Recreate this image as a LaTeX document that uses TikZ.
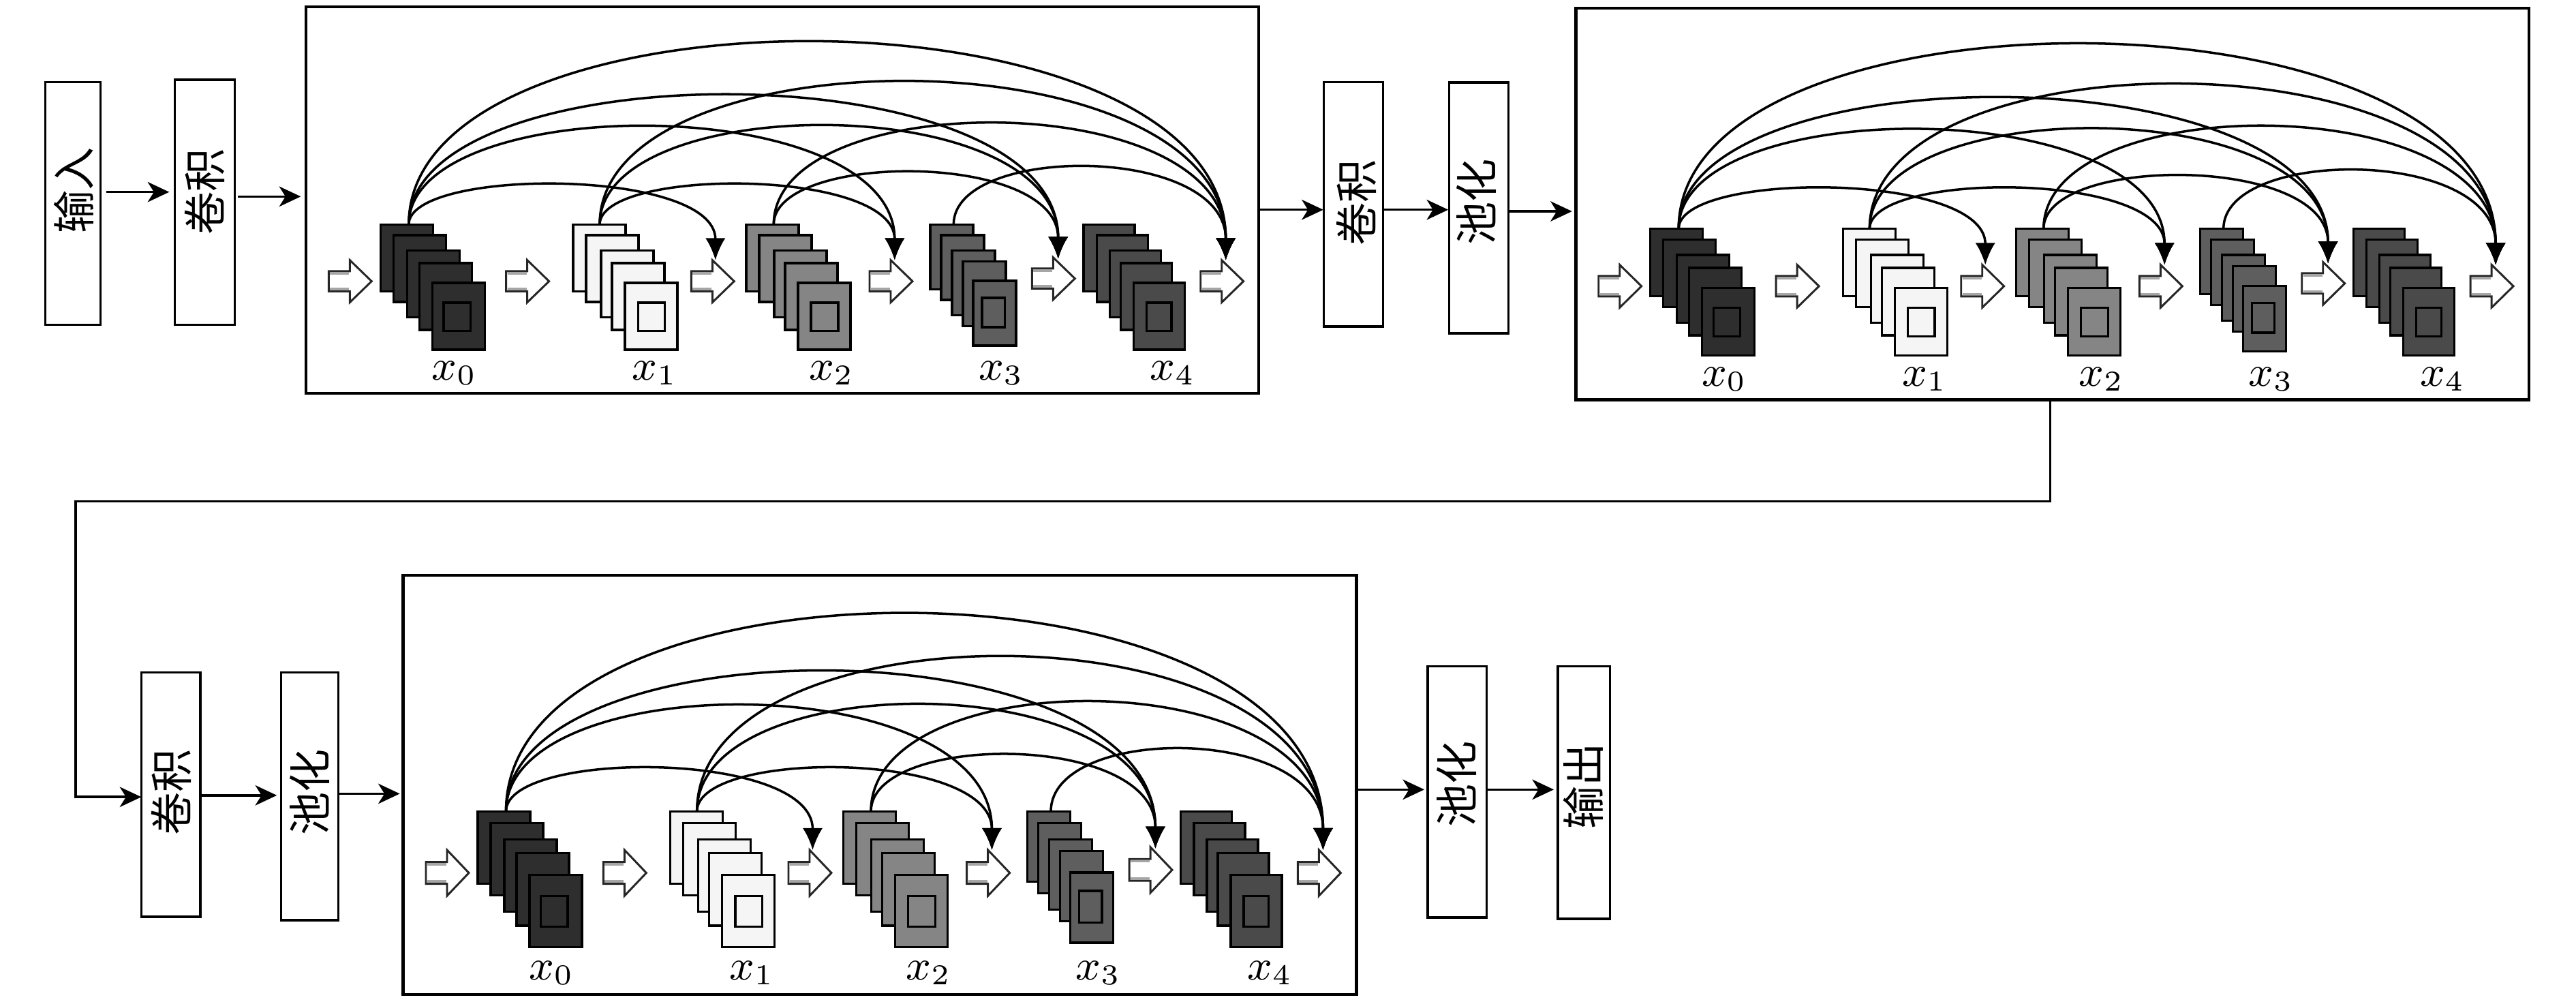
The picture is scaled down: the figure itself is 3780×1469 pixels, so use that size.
\documentclass[tikz,border=0pt]{standalone}
\usepackage{fontspec}
\newfontfamily\cjk{Noto Sans CJK SC}
\usetikzlibrary{arrows.meta,calc}
\definecolor{c0}{gray}{0.18}
\definecolor{c1}{gray}{0.96}
\definecolor{c2}{gray}{0.52}
\definecolor{c3}{gray}{0.37}
\definecolor{c4}{gray}{0.29}
\tikzset{
 box/.style={draw, line width=0.48pt, inner sep=0pt, outer sep=0pt, rectangle},
 frame/.style={draw, line width=0.62pt, inner sep=0pt, outer sep=0pt, rectangle},
 txt/.style={rotate=90, inner sep=0pt, font=\cjk\fontsize{9pt}{9pt}\selectfont},
 arr/.style={line width=0.5pt, -{Stealth[length=4.5pt,width=4.2pt,inset=1.3pt]}},
 arc/.style={line width=0.5pt, -{Latex[length=4.6pt,width=4.2pt]}},
 card/.style={draw=black, line width=0.47pt},
 holl/.style={draw=black!85, fill=white, line width=0.42pt, line join=miter},
 band/.style={draw=black!35, line width=0.5pt},
 lab/.style={inner sep=0pt, anchor=base west, font=\fontsize{8.6pt}{10pt}\selectfont},
}
% hollow arrow: #1 x of tail, #2 y of tip
\newcommand\hollowarr[2]{%
 \draw[holl] (#1,#2-14.75) -- (#1+31,#2-14.75) -- (#1+31,#2-31) -- (#1+63,#2) -- (#1+31,#2+31) -- (#1+31,#2+14.75) -- (#1,#2+14.75) -- cycle;
 \draw[band] (#1+1.8,#2-11.6) -- (#1+30,#2-11.6);
 \draw[band] (#1+1.8,#2+11.6) -- (#1+30,#2+11.6);
}
% stack of cards: #1 x, #2 colour, #3 w, #4 h, #5 offsets, #6 inner square
\newcommand\mystack[6]{%
 \foreach \dx/\dy in {#5}{\draw[card,fill=#2] (#1+\dx,319.7+\dy) rectangle ++(#3,#4);}
 \foreach \ix/\iy/\iw/\ih in {#6}{\draw[card,fill=#2] (#1+\ix,319.7+\iy) rectangle ++(\iw,\ih);}
}
\newcommand\denseblock[1]{%
 \hollowarr{34}{403}
 \hollowarr{294.4}{403}
 \hollowarr{566}{403}
 \hollowarr{827.7}{403}
 \hollowarr{1066}{399}
 \hollowarr{1313.4}{403}
 \mystack{110}{c0}{77}{98}{0/0,19/15.7,39/38,57/56.7,76/85.7}{92.7/114.7/39.3/41.7}
 \mystack{392.7}{c1}{77}{98}{0/0,19/15.7,41/38,57/56.7,76/85.7}{95.3/114.7/39.3/41.7}
 \mystack{646.7}{c2}{77}{98}{0/0,19/15.7,41/38,57/56.7,76/85.7}{95/114.7/40/41.7}
 \mystack{916.7}{c3}{63}{95}{0/0,16/15.7,32/38,48/54,63/82.7}{76/107.7/33.3/43}
 \mystack{1141.7}{c4}{75}{98}{0/0,19.3/15.7,38.3/38,54.3/56.7,73.3/85.7}{92.3/114.7/36.7/41.7}
 \coordinate (#1s0) at (151.5,319.7);
 \coordinate (#1s1) at (431.7,319.7);
 \coordinate (#1s2) at (687,319.7);
 \coordinate (#1s3) at (951,319.7);
 \coordinate (#1t2) at (601.5,372);
 \coordinate (#1t3) at (864.5,372);
 \coordinate (#1t4) at (1104.4,370);
 \coordinate (#1t5) at (1350.4,372);
 \draw[arc] (#1s0) .. controls +(0,-83.5) and +(0,-135.8) .. (#1t2);
 \draw[arc] (#1s0) .. controls +(0,-196.85) and +(0,-249.15) .. (#1t3);
 \draw[arc] (#1s0) .. controls +(0,-257) and +(0,-309.3) .. (#1t4);
 \draw[arc] (#1s0) .. controls +(0,-362.2) and +(0,-414.5) .. (#1t5);
 \draw[arc] (#1s1) .. controls +(0,-83.5) and +(0,-135.8) .. (#1t3);
 \draw[arc] (#1s1) .. controls +(0,-196.85) and +(0,-249.15) .. (#1t4);
 \draw[arc] (#1s1) .. controls +(0,-284.45) and +(0,-336.75) .. (#1t5);
 \draw[arc] (#1s2) .. controls +(0,-106.3) and +(0,-158.6) .. (#1t4);
 \draw[arc] (#1s2) .. controls +(0,-203) and +(0,-255.3) .. (#1t5);
 \draw[arc] (#1s3) .. controls +(0,-118.05) and +(0,-170.35) .. (#1t5);
 \node[lab] (#1l0) at (184,548) {$x_0$};
 \node[lab] (#1l1) at (478,548) {$x_1$};
 \node[lab] (#1l2) at (737.4,548) {$x_2$};
 \node[lab] (#1l3) at (986.4,548) {$x_3$};
 \node[lab] (#1l4) at (1238,548) {$x_4$};
}
\begin{document}
\begin{tikzpicture}[x=0.005cm,y=-0.005cm]
\useasboundingbox (0,0) rectangle (3780,1469);
% row 1 boxes
\node[box,minimum width=0.405cm,minimum height=1.7835cm] (in1) at (107.2,298.35) {};
\node[box,minimum width=0.438cm,minimum height=1.8cm] (cv1) at (300.5,296.7) {};
\node[box,minimum width=0.433cm,minimum height=1.7965cm] (cv2) at (1986,299.65) {};
\node[box,minimum width=0.433cm,minimum height=1.843cm] (pl2) at (2170,305) {};
% row 2 boxes
\node[box,minimum width=0.434cm,minimum height=1.796cm] (cv3) at (250.7,1165.6) {};
\node[box,minimum width=0.422cm,minimum height=1.82cm] (pl3) at (454.4,1168) {};
\node[box,minimum width=0.4335cm,minimum height=1.8435cm] (pl4) at (2138.35,1161.65) {};
\node[box,minimum width=0.3815cm,minimum height=1.855cm] (out) at (2324.15,1162.8) {};
% texts
\node[txt] (tin1) at (108.3,279) {输入};
\node[txt] (tcv1) at (300.5,281) {卷积};
\node[txt] (tcv2) at (1990,297.5) {卷积};
\node[txt] (tpl2) at (2166,296.5) {池化};
\node[txt] (tcv3) at (251,1162) {卷积};
\node[txt] (tpl3) at (454.4,1162) {池化};
\node[txt] (tpl4) at (2137.5,1150) {池化};
\node[txt] (tout) at (2323.5,1153) {输出};
% block frames
\node[frame,minimum width=6.997cm,minimum height=2.8385cm] (B1) at (1148,293.45) {};
\node[frame,minimum width=6.999cm,minimum height=2.8735cm] (B2) at (3011.6,299.35) {};
\node[frame,minimum width=7.0cm,minimum height=3.078cm] (B3) at (1291,1151.5) {};
% block contents
\begin{scope}[shift={(448.3,9.6)}]
 \denseblock{a}
\end{scope}
\begin{scope}[shift={(2311.7,12)},yscale=1.012]
 \denseblock{b}
\end{scope}
\begin{scope}[shift={(591,843.7)},yscale=1.084]
 \denseblock{c}
\end{scope}
% connector heights
\coordinate (r1a) at (0,281.7);
\coordinate (r1b) at (0,288.3);
\coordinate (r1c) at (0,307.7);
\coordinate (r1d) at (0,310);
\coordinate (w1) at (3008.5,735.3);
\coordinate (w2) at (110.9,735.3);
\coordinate (r2a) at (0,1169.2);
\coordinate (r2b) at (0,1166.8);
\coordinate (r2c) at (0,1164.4);
\coordinate (r2d) at (0,1158.3);
% connectors
\draw[arr,shorten <=0.04cm,shorten >=0.042cm] (in1.east |- r1a) -- (cv1.west |- r1a);
\draw[arr,shorten <=0.023cm,shorten >=0.038cm] (cv1.east |- r1b) -- (B1.west |- r1b);
\draw[arr,shorten >=0.005cm] (B1.east |- r1c) -- (cv2.west |- r1c);
\draw[arr,shorten <=0.007cm,shorten >=0.008cm] (cv2.east |- r1c) -- (pl2.west |- r1c);
\draw[arr,shorten >=0.028cm] (pl2.east |- r1d) -- (B2.west |- r1d);
\draw[arr] (B2.south -| w1) -- (w1) -- (w2) -- (w2 |- r2a) -- (cv3.west |- r2a);
\draw[arr,shorten >=0.03cm] (cv3.east |- r2b) -- (pl3.west |- r2b);
\draw[arr,shorten >=0.025cm] (pl3.east |- r2c) -- (B3.west |- r2c);
\draw[arr,shorten >=0.025cm] (B3.east |- r2d) -- (pl4.west |- r2d);
\draw[arr,shorten <=0.008cm,shorten >=0.03cm] (pl4.east |- r2d) -- (out.west |- r2d);
\end{tikzpicture}
\end{document}
